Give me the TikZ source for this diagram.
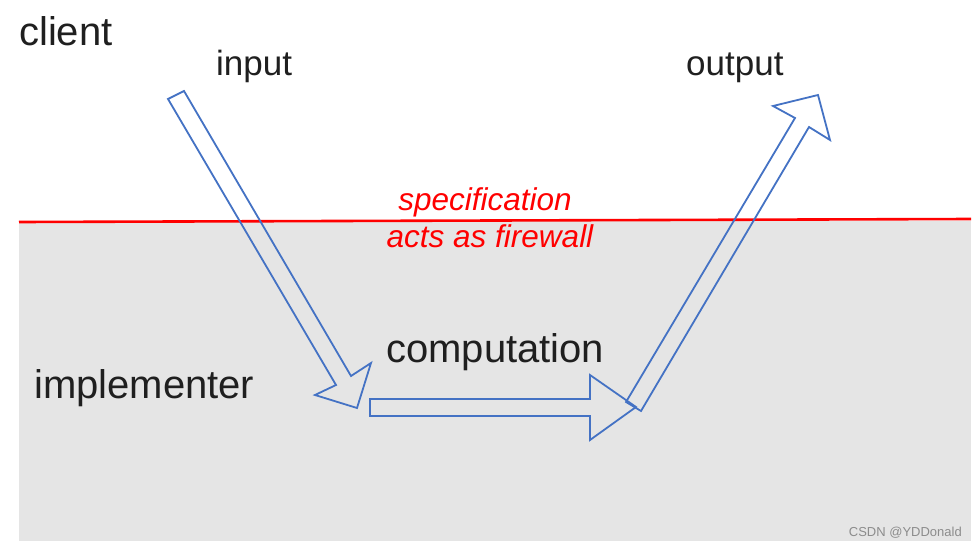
\documentclass[tikz,border=0pt]{standalone}
\usepackage{fontspec}
\setmainfont{Liberation Sans}
\definecolor{arrowblue}{RGB}{68,114,196}
\definecolor{implgray}{RGB}{229,229,229}
\definecolor{wmgray}{RGB}{140,140,140}
\begin{document}
\begin{tikzpicture}[x=1pt,y=-1pt,
  bigarrow/.style={draw=arrowblue,line width=1.8pt,line join=miter},
  bigtext/.style={anchor=base west,inner sep=0pt,text=black!88,font=\fontsize{40}{48}\selectfont},
  midtext/.style={anchor=base west,inner sep=0pt,text=black!88,font=\fontsize{35}{42}\selectfont},
  redtext/.style={anchor=base,inner sep=0pt,text=red,font=\fontsize{31.5}{38}\selectfont\itshape}]
\useasboundingbox (0,0) rectangle (977,546);
\fill[white] (0,0) rectangle (977,546);
% implementer region
\fill[implgray] (19,221) rectangle (971,541);
% specification firewall line
\draw[red,line width=2.6pt] (19,222) -- (971,219);
% labels
\node[bigtext] (client) at (19,45) {client};
\node[midtext] (input) at (216,75) {input};
\node[midtext] (output) at (686,75) {output};
\node[bigtext] (impl) at (34,398) {implementer};
\node[bigtext] (comp) at (386,362) {computation};
\node[redtext] (spec) at (485,210) {specification};
\node[redtext] (fw) at (490,247) {acts as firewall};
\node[anchor=base east,inner sep=0pt,text=wmgray,font=\fontsize{13}{15}\selectfont] (wm) at (962,536) {CSDN @YDDonald};
% input arrow
\draw[bigarrow] (168,99) -- (184,91) -- (351,376) -- (371,363) -- (357,408)
  -- (315,395) -- (336,385) -- cycle;
% computation arrow
\draw[bigarrow] (370,399) -- (590,399) -- (590,375) -- (636,407) -- (590,440)
  -- (590,416) -- (370,416) -- cycle;
% output arrow
\draw[bigarrow] (626,402) -- (641,411) -- (809,127) -- (830,140) -- (818,95)
  -- (773,106) -- (795,118) -- cycle;
\end{tikzpicture}
\end{document}
